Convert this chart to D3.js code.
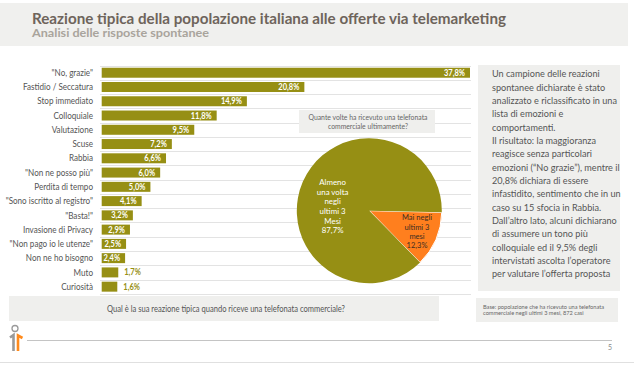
<!DOCTYPE html>
<html>
<head>
<meta charset="utf-8">
<script src="https://cdn.jsdelivr.net/npm/d3@7"></script>
<style>
  html, body { margin: 0; padding: 0; background: #fff; }
  svg { display: block; font-family: Lato, "Open Sans", sans-serif; }
</style>
</head>
<body>
<div id="chart"></div>
<script>
// Data
const categories = ['"No, grazie"', 'Fastidio / Seccatura', 'Stop immediato', 'Colloquiale', 'Valutazione',
    'Scuse', 'Rabbia', '"Non ne posso più"', 'Perdita di tempo', '"Sono iscritto al registro"', '"Basta!"',
    'Invasione di Privacy', '"Non pago io le utenze"', 'Non ne ho bisogno', 'Muto', 'Curiosità'];
const values = [37.8, 20.8, 14.9, 11.8, 9.5, 7.2, 6.6, 6.0, 5.0, 4.1, 3.2, 2.9, 2.5, 2.4, 1.7, 1.6];

const pieNames = ['Mai negli ultimi 3 mesi', 'Almeno una volta negli ultimi 3 Mesi'];
const pieLines = [['Mai negli', 'ultimi 3', 'mesi'], ['Almeno', 'una volta', 'negli', 'ultimi 3', 'Mesi']];
const pieValues = [12.3, 87.7];

const noteLines = [
    'Un campione delle reazioni',
    'spontanee dichiarate è stato',
    'analizzato e riclassificato in una',
    'lista di emozioni e',
    'comportamenti.',
    'Il risultato: la maggioranza',
    'reagisce senza particolari',
    'emozioni (“No grazie”), mentre il',
    '20,8% dichiara di essere',
    'infastidito, sentimento che in un',
    'caso su 15 sfocia in Rabbia.',
    'Dall’altro lato, alcuni dichiarano',
    'di assumere un tono più',
    'colloquiale ed il 9,5% degli',
    'intervistati ascolta l’operatore',
    'per valutare l’offerta proposta'
];
const baseLines = ['Base: popolazione che ha ricevuto una telefonata', 'commerciale negli ultimi 3 mesi, 872 casi'];

const width = 637, height = 373;
const olive = '#968f14', orange = '#ff7f1e', boxFill = '#efefed';
const fmt = v => d3.format('.1f')(v).replace('.', ',') + '%';

const svg = d3.select('#chart')
    .append('svg')
    .attr('width', width)
    .attr('height', height);

// Squeeze a group of texts so a reference string gets the width it has in the picture
function squeeze(sel, refText, target) {
    const probe = svg.append('text').text(refText);
    const first = sel.node();
    ['font-size', 'font-weight'].forEach(p => probe.style(p, first.style.getPropertyValue(p) || getComputedStyle(first)[p]));
    const k = target / probe.node().getComputedTextLength();
    probe.remove();
    sel.each(function() {
        const len = this.getComputedTextLength();
        d3.select(this).attr('textLength', len * k).attr('lengthAdjust', 'spacingAndGlyphs');
    });
}

// Title band
svg.append('rect')
    .attr('x', 0).attr('y', 3)
    .attr('width', 628).attr('height', 43)
    .attr('fill', '#f0f0ee');

const title = svg.append('text')
    .attr('x', 32).attr('y', 23.5)
    .style('font-size', '15.5px')
    .style('font-weight', 'bold')
    .style('fill', '#6e645b')
    .text('Reazione tipica della popolazione italiana alle offerte via telemarketing');
squeeze(title, title.text(), 474);

const subtitle = svg.append('text')
    .attr('x', 32).attr('y', 37)
    .style('font-size', '10.5px')
    .style('font-weight', 'bold')
    .style('fill', '#a9a49c')
    .text('Analisi delle risposte spontanee');
squeeze(subtitle, subtitle.text(), 177);

// Bar chart scales
const y = d3.scaleBand()
    .domain(categories)
    .range([65.6, 293.8])
    .paddingInner(0.3)
    .paddingOuter(0.15);

const x = d3.scaleLinear()
    .domain([0, values[0]])
    .range([101.7, 470]);

const step = y.step();
const rows = categories.map((c, i) => ({ name: c, value: values[i] }));

// Grid lines between rows
const gridYs = d3.range(categories.length + 1).map(i => 65.6 + i * step);
svg.append('g')
    .selectAll('line')
    .data(gridYs)
    .enter()
    .append('line')
    .attr('x1', 100).attr('x2', 471)
    .attr('y1', d => Math.round(d) + 0.5)
    .attr('y2', d => Math.round(d) + 0.5)
    .attr('stroke', '#e3e3e3')
    .attr('stroke-width', 1);

// Bars
svg.append('g')
    .selectAll('rect')
    .data(rows)
    .enter()
    .append('rect')
    .attr('x', x(0))
    .attr('y', d => y(d.name))
    .attr('width', d => x(d.value) - x(0))
    .attr('height', y.bandwidth())
    .attr('fill', olive);

// Category labels
const catLabels = svg.append('g')
    .selectAll('text')
    .data(rows)
    .enter()
    .append('text')
    .attr('x', 93)
    .attr('y', d => y(d.name) + y.bandwidth() / 2)
    .attr('dy', '0.35em')
    .attr('text-anchor', 'end')
    .style('font-size', '9px')
    .style('fill', '#555')
    .text(d => d.name);
squeeze(catLabels, 'Fastidio / Seccatura', 70);

// Value labels, inside the bar unless it is too short
const valLabels = svg.append('g')
    .selectAll('text')
    .data(rows)
    .enter()
    .append('text')
    .attr('x', d => d.value < 2 ? x(d.value) + 6 : x(d.value) - 5)
    .attr('y', d => y(d.name) + y.bandwidth() / 2)
    .attr('dy', '0.36em')
    .attr('text-anchor', d => d.value < 2 ? 'start' : 'end')
    .style('font-size', '8.5px')
    .style('font-weight', 'bold')
    .style('fill', d => d.value < 2 ? olive : '#fff')
    .text(d => fmt(d.value));
squeeze(valLabels, '20,8%', 21);

// Pie question box
svg.append('rect')
    .attr('x', 299).attr('y', 110)
    .attr('width', 136).attr('height', 23)
    .attr('fill', boxFill);

const pieQ = svg.append('g')
    .selectAll('text')
    .data(['Quante volte ha ricevuto una telefonata', 'commerciale ultimamente?'])
    .enter()
    .append('text')
    .attr('x', 368)
    .attr('y', (d, i) => 119.5 + i * 9)
    .attr('text-anchor', 'middle')
    .style('font-size', '7.3px')
    .style('fill', '#666')
    .text(d => d);
squeeze(pieQ, 'Quante volte ha ricevuto una telefonata', 119);

// Pie
const cx = 369.3, cy = 210.7, radius = 72.5;
const start = 91.3 * Math.PI / 180;
const pie = d3.pie()
    .value(d => d.value)
    .sort(null)
    .startAngle(start)
    .endAngle(start + 2 * Math.PI);
const pieData = pieNames.map((n, i) => ({ name: n, value: pieValues[i], lines: pieLines[i] }));
const arcs = pie(pieData);

const arc = d3.arc().innerRadius(0).outerRadius(radius);

const pieG = svg.append('g')
    .attr('transform', `translate(${cx},${cy})`);

pieG.selectAll('path')
    .data(arcs)
    .enter()
    .append('path')
    .attr('d', arc)
    .attr('fill', (d, i) => i === 0 ? orange : olive)
    .attr('stroke', (d, i) => i === 0 ? '#fff' : 'none')
    .attr('stroke-width', 1);

// Slice labels
const labelArcs = [d3.arc().innerRadius(52).outerRadius(52), d3.arc().innerRadius(40).outerRadius(40)];
const lineH = [9.4, 9.6];
const dyFix = [0, 11.5];
const pieTexts = [];
arcs.forEach((d, i) => {
    const c = labelArcs[i].centroid(d);
    const lines = d.data.lines.concat([fmt(d.data.value)]);
    const top = c[1] + dyFix[i] - (lines.length - 1) * lineH[i] / 2;
    const t = pieG.append('g')
        .selectAll('text')
        .data(lines)
        .enter()
        .append('text')
        .attr('x', c[0])
        .attr('y', (l, j) => top + j * lineH[i])
        .attr('dy', '0.35em')
        .attr('text-anchor', 'middle')
        .style('font-size', '8.3px')
        .style('fill', i === 0 ? '#3a2e22' : '#fff')
        .text(l => l);
    pieTexts.push(t);
});
squeeze(pieTexts[0], 'Mai negli', 30);
squeeze(pieTexts[1], 'una volta', 31.5);

// Note box on the right
svg.append('rect')
    .attr('x', 478).attr('y', 65)
    .attr('width', 142).attr('height', 226)
    .attr('fill', boxFill);

const notes = svg.append('g')
    .selectAll('text')
    .data(noteLines)
    .enter()
    .append('text')
    .attr('x', 492)
    .attr('y', (d, i) => 74 + i * 13.33)
    .attr('dy', '0.35em')
    .style('font-size', '9.6px')
    .style('fill', '#555')
    .text(d => d);
squeeze(notes, 'analizzato e riclassificato in una', 125);

// Base box
svg.append('rect')
    .attr('x', 476).attr('y', 298)
    .attr('width', 142).attr('height', 24)
    .attr('fill', boxFill);

const base = svg.append('g')
    .selectAll('text')
    .data(baseLines)
    .enter()
    .append('text')
    .attr('x', 483)
    .attr('y', (d, i) => 307 + i * 6.3)
    .attr('dy', '0.35em')
    .style('font-size', '6px')
    .style('fill', '#666')
    .text(d => d);
squeeze(base, baseLines[0], 121);

// Bottom question box
svg.append('rect')
    .attr('x', 9).attr('y', 296)
    .attr('width', 430).attr('height', 25)
    .attr('fill', boxFill);

const q = svg.append('text')
    .attr('x', 226).attr('y', 309)
    .attr('dy', '0.35em')
    .attr('text-anchor', 'middle')
    .style('font-size', '8.8px')
    .style('fill', '#555')
    .text('Qual è la sua reazione tipica quando riceve una telefonata commerciale?');
squeeze(q, q.text(), 238);

// Footer: logo, rule, page number
svg.append('circle')
    .attr('cx', 15).attr('cy', 328.5).attr('r', 3)
    .attr('fill', 'none')
    .attr('stroke', '#9a9a9a')
    .attr('stroke-width', 1.3);
svg.append('path')
    .attr('d', 'M10,337.5 L13.5,335 L13.5,351')
    .attr('fill', 'none')
    .attr('stroke', '#9a9a9a')
    .attr('stroke-width', 2.6);
svg.append('path')
    .attr('d', 'M18,351 L18,335.5 L22.5,338')
    .attr('fill', 'none')
    .attr('stroke', '#ff8a1c')
    .attr('stroke-width', 2.6);

svg.append('line')
    .attr('x1', 27).attr('x2', 612)
    .attr('y1', 340.5).attr('y2', 340.5)
    .attr('stroke', '#c4c4c4')
    .attr('stroke-width', 1);

svg.append('text')
    .attr('x', 610).attr('y', 350)
    .attr('text-anchor', 'middle')
    .style('font-size', '7px')
    .style('fill', '#888')
    .text('5');

svg.append('line')
    .attr('x1', 0).attr('x2', 634)
    .attr('y1', 362.5).attr('y2', 362.5)
    .attr('stroke', '#e0e0e0')
    .attr('stroke-width', 1);
</script>
</body>
</html>
